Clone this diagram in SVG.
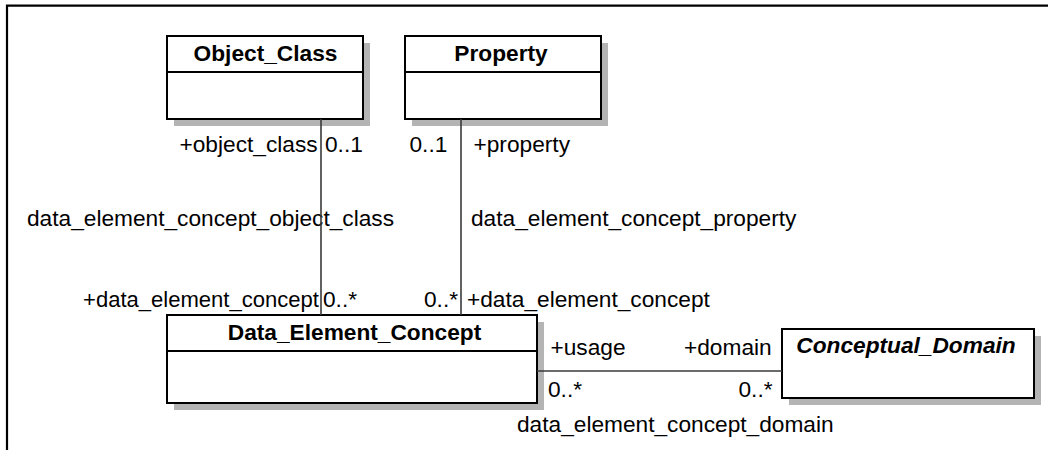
<svg xmlns="http://www.w3.org/2000/svg" width="1048" height="450" viewBox="0 0 1048 450">
<style>
.shadow{fill:#b4b4b4;stroke:none}
.box{fill:#fff;stroke:#000;stroke-width:2}
.div{stroke:#000;stroke-width:2}
.title{font-family:"Liberation Sans",Arial,sans-serif;font-size:22.7px;font-weight:bold;text-anchor:middle;fill:#000}
.lbl{font-family:"Liberation Sans",Arial,sans-serif;font-size:22.7px;fill:#000}
.conn{stroke:#3a3a3a;stroke-width:1.6;fill:none}
</style>
<rect width="1048" height="450" fill="#fff"/>
<path d="M7,450 V5.7 H1048" fill="none" stroke="#000" stroke-width="2.2"/>
<g id="node-object-class">
<rect class="shadow" x="174" y="43" width="196" height="83"/>
<rect class="box" x="167" y="36" width="196" height="83"/>
<line class="div" x1="167" y1="72" x2="363" y2="72"/>
<text class="title" x="265.5" y="61">Object_Class</text>
</g>
<g id="node-property">
<rect class="shadow" x="412" y="43" width="196" height="83"/>
<rect class="box" x="405" y="36" width="196" height="83"/>
<line class="div" x1="405" y1="72" x2="601" y2="72"/>
<text class="title" x="501" y="61">Property</text>
</g>
<g id="node-data-element-concept">
<rect class="shadow" x="174" y="322" width="370" height="88"/>
<rect class="box" x="167" y="315" width="370" height="88"/>
<line class="div" x1="167" y1="351" x2="537" y2="351"/>
<text class="title" x="354.5" y="340">Data_Element_Concept</text>
</g>
<g id="node-conceptual-domain">
<rect class="shadow" x="789" y="336" width="252" height="69"/>
<rect class="box" x="782" y="329" width="252" height="69"/>
<text class="title" x="906" y="353" font-style="italic">Conceptual_Domain</text>
</g>
<g id="labels">
<text class="lbl" x="179.5" y="152">+object_class</text>
<text class="lbl" x="325" y="152">0..1</text>
<text class="lbl" x="409.5" y="152">0..1</text>
<text class="lbl" x="473.5" y="152">+property</text>
<text class="lbl" x="27" y="226">data_element_concept_object_class</text>
<text class="lbl" x="471" y="226">data_element_concept_property</text>
<text class="lbl" x="83" y="307" textLength="236" lengthAdjust="spacingAndGlyphs">+data_element_concept</text>
<text class="lbl" x="323" y="307">0..*</text>
<text class="lbl" x="424" y="307">0..*</text>
<text class="lbl" x="467" y="307">+data_element_concept</text>
<text class="lbl" x="550.5" y="355">+usage</text>
<text class="lbl" x="684" y="355">+domain</text>
<text class="lbl" x="548" y="397">0..*</text>
<text class="lbl" x="738.5" y="397">0..*</text>
<text class="lbl" x="517" y="432">data_element_concept_domain</text>
</g>
<g id="connectors">
<line class="conn" x1="321" y1="119" x2="321" y2="315"/>
<line class="conn" x1="461" y1="119" x2="461" y2="315"/>
<line class="conn" x1="537" y1="371" x2="782" y2="371"/>
</g>
</svg>
